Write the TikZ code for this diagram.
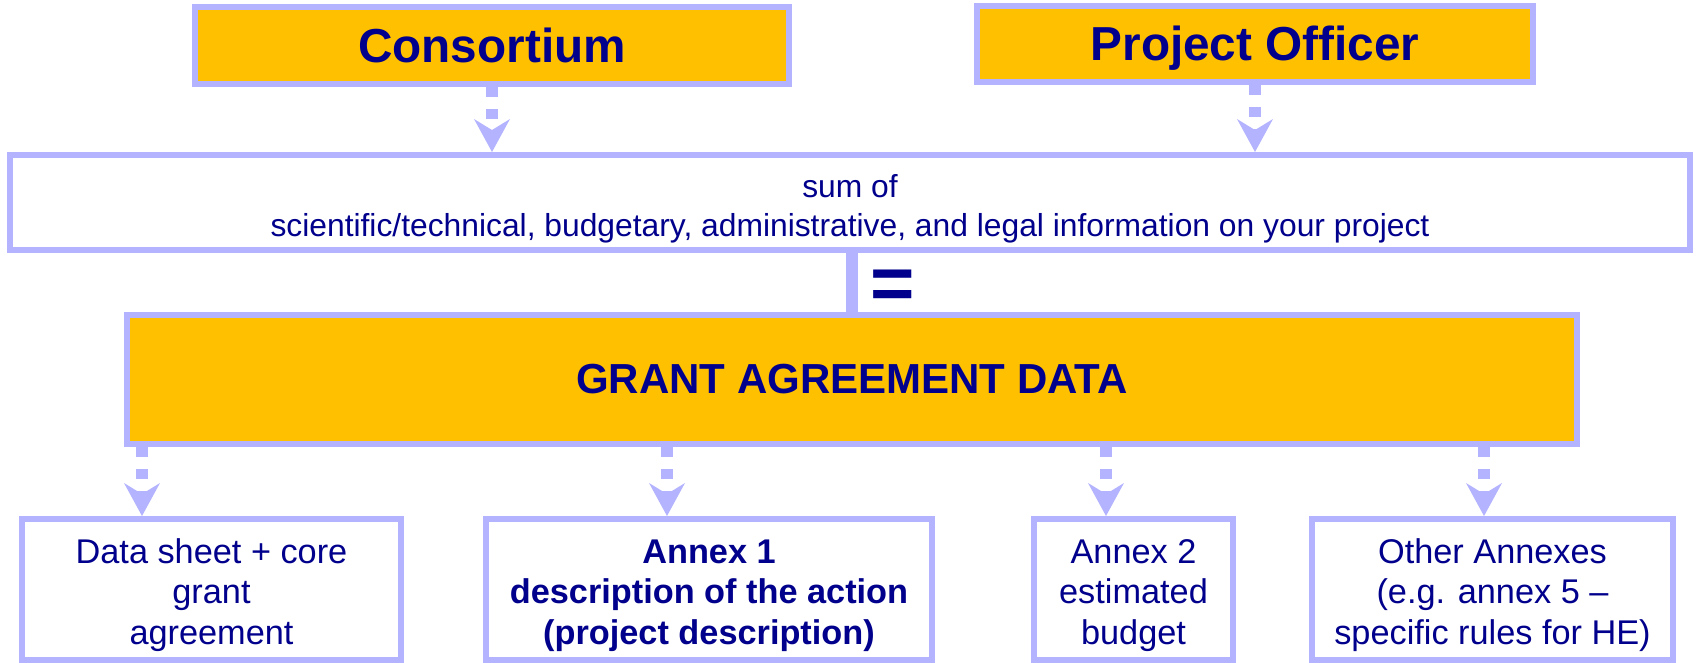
\documentclass[tikz,border=0pt]{standalone}
\usepackage{fontspec}
\setmainfont{Liberation Sans}
\usetikzlibrary{arrows.meta}

\definecolor{rim}{RGB}{179,179,255}
\definecolor{amber}{RGB}{255,192,0}
\definecolor{navy}{RGB}{0,0,140}

\tikzstyle{headbox} = [draw=rim, fill=amber, line width=6pt, inner sep=0pt, text=navy, text height=34pt, text depth=0pt, font=\bfseries\fontsize{47.7}{56}\selectfont]
\tikzstyle{sumbox} = [draw=rim, fill=white, line width=6pt, inner sep=0pt, text=navy, align=center, text height=70pt, text depth=3pt, font=\fontsize{31.8}{39}\selectfont]
\tikzstyle{gabox} = [draw=rim, fill=amber, line width=6pt, inner sep=0pt, text=navy, font=\bfseries\fontsize{42}{50}\selectfont]
\tikzstyle{annexbox} = [draw=rim, fill=white, line width=6pt, inner sep=0pt, text=navy, align=center, minimum height=141pt, text height=112pt, text depth=3pt, font=\fontsize{34.3}{40.5}\selectfont]
\tikzstyle{dasharrow} = [draw=rim, line width=12pt, dash pattern=on 10pt off 12pt, -{Stealth[length=33pt, width=36pt, inset=11pt, line width=0pt]}]
\tikzstyle{eqbar} = [draw=rim, line width=12pt]
\tikzstyle{eqsign} = [inner sep=0pt, text=navy, font=\bfseries\fontsize{76}{76}\selectfont]

\begin{document}
\begin{tikzpicture}[x=1pt, y=-1pt]
      \useasboundingbox (0,0) rectangle (1696,663);
      \node[headbox, minimum width=594pt, minimum height=77pt] (cons) at (492,46) {Consortium};
      \node[headbox, minimum width=556pt, minimum height=76pt] (po) at (1255,44) {Project Officer};
      \node[sumbox, minimum width=1680pt, minimum height=95pt] (sum) at (850,202.5) {sum of\\scientific/technical, budgetary, administrative, and legal information on your project};
      \node[gabox, minimum width=1450pt, minimum height=129pt] (ga) at (852,379.5) {GRANT AGREEMENT DATA};
      \node[eqsign, anchor=base] (eq) at (893,309) {=};
      \node[annexbox, minimum width=379pt] (sheet) at (211.5,589.5) {Data sheet + core\\grant\\agreement};
      \node[annexbox, minimum width=446pt, font=\bfseries\fontsize{34.3}{40.5}\selectfont] (annexone) at (709,589.5) {Annex 1\\description of the action\\(project description)};
      \node[annexbox, minimum width=199pt] (annextwo) at (1133.5,589.5) {Annex 2\\estimated\\budget};
      \node[annexbox, minimum width=361pt] (others) at (1492.5,589.5) {Other Annexes\\(e.g. annex 5 –\\specific rules for HE)};
      \coordinate (c1) at (142,0);
      \coordinate (c2) at (667,0);
      \coordinate (c3) at (1106,0);
      \coordinate (c4) at (1484,0);
      \draw[dasharrow] (cons.south) -- (cons.south |- sum.north);
      \draw[dasharrow] (po.south) -- (po.south |- sum.north);
      \draw[eqbar] (ga.north) -- (ga.north |- sum.south);
      \draw[dasharrow] (ga.south -| c1) -- (sheet.north -| c1);
      \draw[dasharrow] (ga.south -| c2) -- (annexone.north -| c2);
      \draw[dasharrow] (ga.south -| c3) -- (annextwo.north -| c3);
      \draw[dasharrow] (ga.south -| c4) -- (others.north -| c4);
    \end{tikzpicture}
\end{document}
